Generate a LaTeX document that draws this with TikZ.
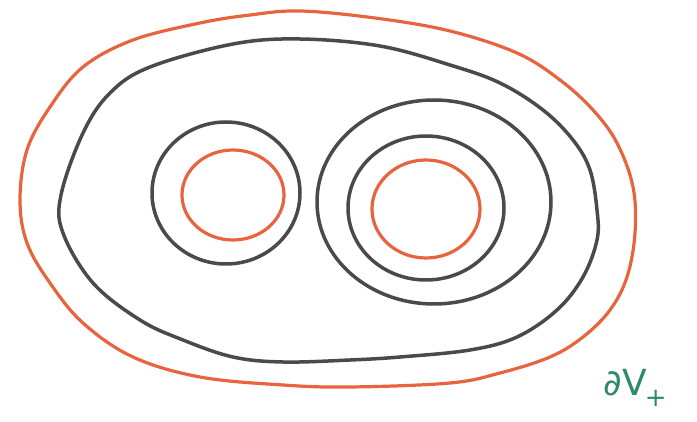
\documentclass[tikz,border=0pt]{standalone}
\usepackage{fontspec}
\setsansfont{DejaVu Sans}
\definecolor{penorange}{HTML}{E8643E}
\definecolor{pengray}{HTML}{4A4A4A}
\definecolor{pengreen}{HTML}{2F8A68}
\begin{document}
\begin{tikzpicture}[x=1pt,y=-1pt,
  orangeline/.style={draw=penorange,line width=3.2pt},
  grayline/.style={draw=pengray,line width=3.5pt},
  lbl/.style={text=pengreen,font=\fontsize{36}{36}\selectfont\sffamily,inner sep=0pt}]
\useasboundingbox (0,0) rectangle (697,422);
% outer orange boundary
\draw[orangeline] plot[smooth cycle,tension=0.6] coordinates {
  (300,11) (375,18) (450,31) (517,53) (560,80) (593,110) (617,143) (633,187)
  (635,233) (627,277) (610,310) (583,337) (550,357) (500,373) (450,383)
  (350,387) (283,385) (200,377) (133,357) (83,323) (50,283) (27,243) (20,200)
  (27,150) (50,107) (83,67) (133,40) (200,23) (250,15)};
% outer gray
\draw[grayline] plot[smooth cycle,tension=0.6] coordinates {
  (300,39) (380,46) (450,65) (500,83) (543,110) (573,140) (590,170) (597,210)
  (597,240) (583,277) (557,310) (517,337) (470,350) (400,357) (350,360)
  (283,362) (233,357) (183,340) (140,320) (93,283) (63,233) (61,195)
  (83,133) (110,93) (150,67) (233,44)};
% left pair
\draw[grayline] (226,193) ellipse[x radius=74,y radius=71];
\draw[orangeline] (233,195) ellipse[x radius=51,y radius=45];
% right triple
\draw[grayline] (434,202) ellipse[x radius=117,y radius=102];
\draw[grayline] (426,208) ellipse[x radius=78,y radius=72];
\draw[orangeline] (426,209) ellipse[x radius=54,y radius=49];
\node[lbl] (label) at (635,388) {∂V\kern-0.05em\raisebox{-0.3em}{\fontsize{26}{26}\selectfont+}};
\end{tikzpicture}
\end{document}
